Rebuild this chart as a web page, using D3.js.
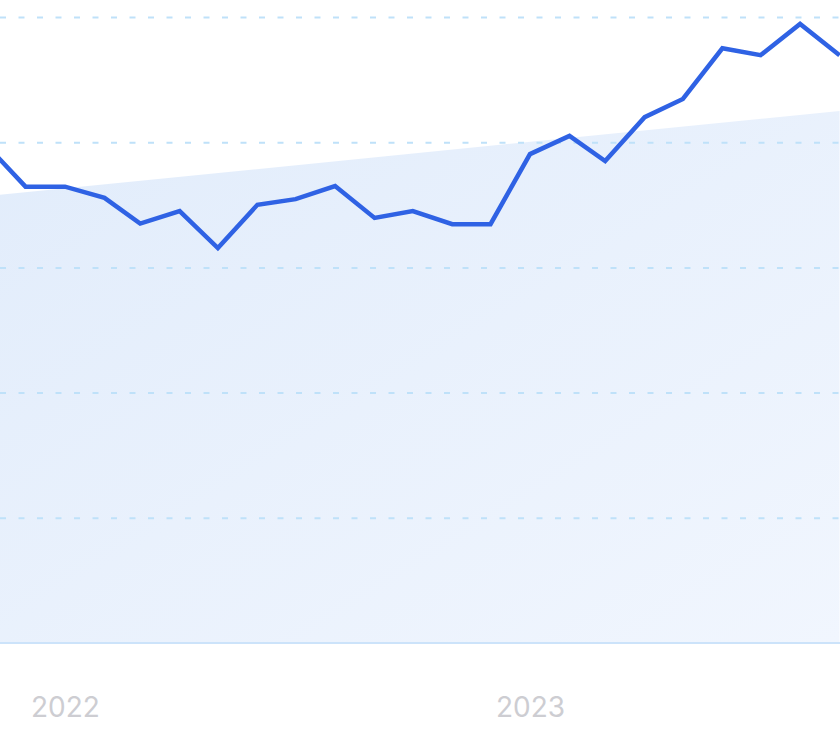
<!DOCTYPE html>
<html>
<head>
<meta charset="utf-8">
<script src="https://cdn.jsdelivr.net/npm/d3@7"></script>
<style>
  html, body { margin: 0; padding: 0; background: #ffffff; overflow: hidden; }
  svg { display: block; }
</style>
</head>
<body>
<svg id="chart" width="840" height="740"></svg>
<script>
// ---- data ----
const months = ["2021-11","2021-12","2022-01","2022-02","2022-03","2022-04","2022-05","2022-06",
  "2022-07","2022-08","2022-09","2022-10","2022-11","2022-12","2023-01","2023-02","2023-03",
  "2023-04","2023-05","2023-06","2023-07","2023-08","2023-09"];
const values = [79.4, 72.9, 72.9, 71.1, 67.0, 69.0, 63.1, 70.0, 70.9, 73.0, 67.9, 69.0, 66.9,
  66.9, 78.1, 81.0, 77.0, 84.0, 86.9, 95.0, 93.9, 98.9, 93.9];
const trendMonths = ["2021-11", "2023-09"];
const trendValues = [71.4, 85.0];
const gridValues = [20, 40, 60, 80, 100];
const tickYears = ["2022-01", "2023-01"];
const tickLabels = ["2022", "2023"];

// ---- setup ----
const parse = d3.timeParse("%Y-%m");
const svg = d3.select("#chart");
const W = 840, H = 740;

const x = d3.scaleTime()
  .domain([parse("2022-01"), parse("2023-01")])
  .range([65, 530]);
const y = d3.scaleLinear().domain([0, 100]).range([643, 17]);

const defs = svg.append("defs");
const grad = defs.append("linearGradient")
  .attr("id", "areaGrad")
  .attr("x1", "0").attr("y1", "0").attr("x2", "1").attr("y2", "1");
grad.append("stop").attr("offset", "0%").attr("stop-color", "#e1ecfb");
grad.append("stop").attr("offset", "100%").attr("stop-color", "#f1f6fe");

// trend area
const trend = trendMonths.map((m, i) => ({ date: parse(m), v: trendValues[i] }));
const area = d3.area()
  .x(d => x(d.date))
  .y0(y(0))
  .y1(d => y(d.v));
svg.append("path")
  .datum(trend)
  .attr("d", area)
  .attr("fill", "url(#areaGrad)");

// grid lines
const yAxis = d3.axisLeft(y).tickValues(gridValues).tickSize(-W).tickFormat("");
const gGrid = svg.append("g").attr("transform", "translate(0,0)").call(yAxis);
gGrid.select(".domain").remove();
gGrid.selectAll(".tick line")
  .attr("stroke", "#bfe1f9")
  .attr("stroke-width", 2)
  .attr("stroke-dasharray", "6,12.5");

// baseline
svg.append("line")
  .attr("x1", 0).attr("x2", W)
  .attr("y1", y(0)).attr("y2", y(0))
  .attr("stroke", "#cce3fa").attr("stroke-width", 2);

// x axis labels
const xAxis = d3.axisBottom(x)
  .tickValues(tickYears.map(parse))
  .tickFormat((d, i) => tickLabels[i])
  .tickSize(0).tickPadding(0);
const gX = svg.append("g").attr("transform", `translate(0,${y(0)})`).call(xAxis);
gX.select(".domain").remove();
gX.selectAll("text")
  .attr("y", 74)
  .attr("dy", null)
  .attr("fill", "#cdcdd2")
  .style("font-family", "Inter, 'Noto Sans', sans-serif")
  .style("font-size", "28px")
  .style("dominant-baseline", "auto");

// line
const data = months.map((m, i) => ({ date: parse(m), v: values[i] }));
const line = d3.line().x(d => x(d.date)).y(d => y(d.v));
svg.append("path")
  .datum(data)
  .attr("d", line)
  .attr("fill", "none")
  .attr("stroke", "#2f62e4")
  .attr("stroke-width", 4.5)
  .attr("stroke-linejoin", "miter")
  .attr("stroke-linecap", "butt");
</script>
</body>
</html>
